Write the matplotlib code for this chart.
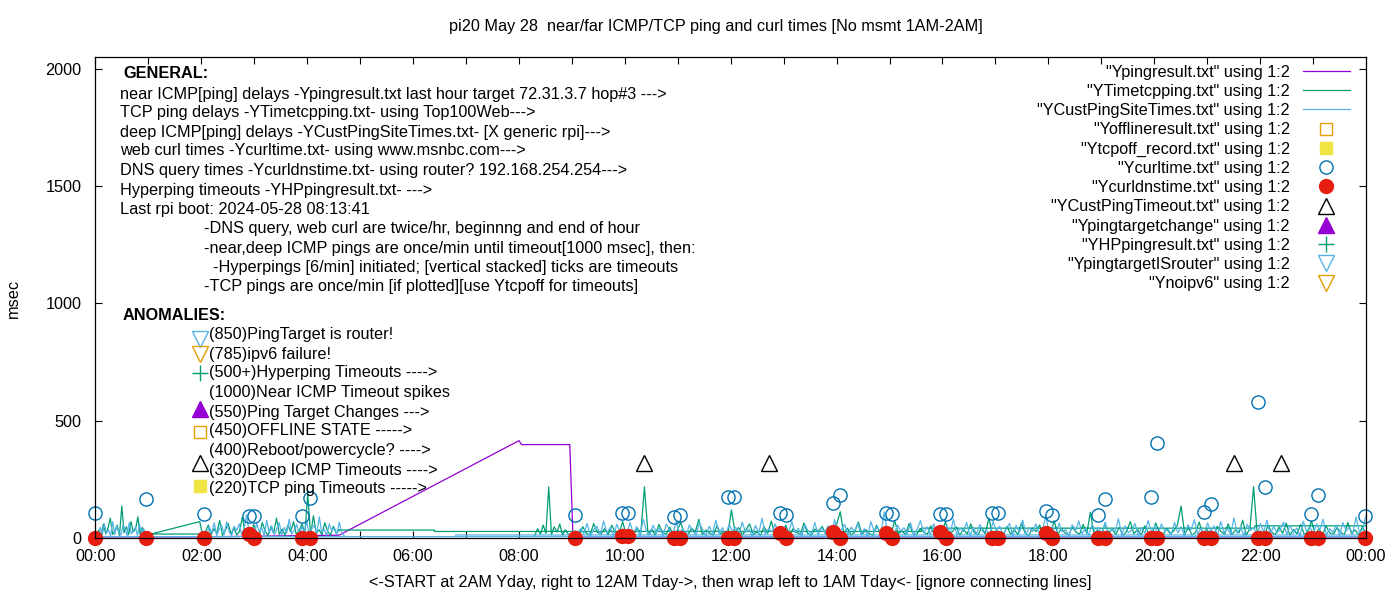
import numpy as np
import matplotlib
matplotlib.use("Agg")
import matplotlib.pyplot as plt
from matplotlib.ticker import FixedLocator, FuncFormatter

plt.rcParams['font.family'] = ['Liberation Sans', 'DejaVu Sans']
plt.rcParams['font.size'] = 11.7
FS = 11.7

# ---- data (time in hours of day, values in msec) ----
ping_t = [0.0, 0.93, 1.97, 4.6, 8.0, 8.05, 8.96, 9.02, 24.0]
ping_ms = [5, 5, 5, 12, 415, 398, 398, 5, 5]

tcp_a_ms = [12, 35, 10, 60, 18, 42, 85, 15, 30, 55, 11, 136, 22, 48, 14, 70, 26, 38, 90, 16, 45, 10]
tcp_b_ms = [70, 12, 28, 55, 14, 40, 20, 75, 11, 33, 62, 16, 45, 13, 28, 90, 18, 36, 12, 58,
            24, 14, 66, 30, 11, 48, 20, 85, 15, 38, 12, 54, 26, 70, 14, 32, 60, 18, 190, 11,
            95, 22, 35, 14, 65, 28, 12, 50, 20, 34]
tcp_c_ms = [12, 40, 15, 55, 20, 218, 14, 48, 25, 60, 12, 35, 18, 10]
tcp_d_ms = [12, 30, 14, 48, 20, 11, 62, 25, 16, 40,
            13, 55, 22, 18, 70, 12, 35, 15, 44, 20,
            218, 14, 38, 12, 58, 24, 16, 46, 11, 30,
            66, 18, 13, 42, 25, 80, 14, 34, 20, 12,
            52, 16, 28, 14, 120, 22, 45, 12, 36, 60,
            15, 26, 11, 48, 20, 72, 14, 32, 18, 55,
            12, 40, 24, 15, 64, 20, 11, 38, 28, 50,
            16, 33, 13, 58, 112, 18, 42, 12, 26, 68,
            14, 36, 20, 11, 54, 24, 16, 46, 12, 75,
            18, 30, 14, 62, 22, 13, 40, 26, 15, 52,
            11, 34, 20, 70, 14, 28, 48, 12, 38, 16,
            60, 22, 13, 44, 18, 85, 15, 32, 24, 12,
            50, 16, 36, 14, 66, 20, 11, 42, 28, 56,
            13, 30, 18, 74, 15, 40, 22, 12, 48, 26,
            16, 58, 20, 110, 14, 34, 12, 62, 24, 38,
            15, 46, 11, 28, 70, 18, 36, 13, 52, 22,
            14, 64, 26, 12, 40, 18, 30, 56, 136, 16,
            44, 13, 24, 68, 15, 38, 20, 11, 50, 28,
            16, 60, 14, 34, 22, 76, 12, 42, 219, 18,
            30, 13, 54, 24, 15, 46, 20, 64, 12, 36,
            18, 58, 14, 28, 72, 16, 40, 12, 50, 22,
            15, 44, 26, 13, 66, 20, 34, 12, 48, 18]
# wrap-around connecting lines of the TCP file
tcp_wrap_t = [0.95, 1.97, np.nan, 4.6, 6.4, 6.4, 15.6, 15.6, 21.9, 21.9, 24.0]
tcp_wrap_ms = [17, 17, np.nan, 34, 34, 28, 28, 42, 42, 52, 52]

cust_a_ms = [10, 45, 12, 60, 20, 35, 10, 70, 15, 50, 25, 12, 55, 40, 10, 65, 18, 30, 48, 11, 58, 22, 40, 12]
cust_b_ms = [12, 48, 20, 65, 10, 38, 55, 14, 70, 25, 11, 50, 32, 60, 15, 42, 100, 18, 35, 12,
             62, 28, 45, 10, 75, 20, 52, 14, 38, 66, 12, 44, 22, 80, 16, 34, 58, 11, 48, 26,
             70, 13, 40, 55, 18, 90, 24, 36, 12, 60, 30, 46, 15, 68, 20, 10]
cust_c_ms = [12, 40, 18, 62, 10, 35, 50, 14, 72, 22, 45, 11,
             58, 26, 38, 12, 66, 20, 48, 10, 80, 30, 15, 54,
             24, 42, 11, 60, 34, 16, 70, 22, 40, 12, 56, 28,
             14, 64, 36, 10, 50, 20, 76, 18, 44, 12, 58, 30,
             46, 13, 68, 24, 38, 11, 54, 20, 84, 16, 40, 26,
             60, 12, 34, 48, 15, 72, 22, 42, 10, 56, 30, 18,
             66, 14, 44, 24, 52, 11, 78, 20, 36, 58, 13, 46,
             28, 62, 16, 40, 10, 70, 24, 50, 14, 112, 20, 34,
             12, 56, 30, 44, 18, 64, 11, 38, 74, 22, 48, 15,
             60, 26, 36, 12, 52, 20, 80, 14, 42, 28, 66, 10,
             46, 18, 58, 24, 34, 13, 70, 30, 50, 16, 40, 62,
             11, 54, 22, 76, 15, 44, 28, 60, 12, 38, 92, 20,
             48, 14, 64, 26, 36, 10, 56, 32, 72, 18, 42, 12,
             58, 24, 46, 16, 68, 11, 40, 28, 82, 14, 52, 22,
             34, 62, 13, 44, 20, 74, 26, 50, 12, 60, 30, 38,
             16, 66, 22, 48, 10, 56, 36, 78, 18, 42, 14, 64,
             28, 52, 12, 70, 24, 40, 16, 86, 20, 46, 11, 58,
             32, 44, 14, 62, 26, 76, 12, 50, 22, 36, 68, 15,
             54, 20, 42, 10, 72, 28, 48, 16, 60, 34, 80, 13,
             40, 24, 56, 12, 66, 30, 46, 18, 90, 22, 38, 95]
cust_wrap_t = [0.0, 24.0, np.nan, 6.8, 24.0]
cust_wrap_ms = [6, 6, np.nan, 13, 13]

curl_t = [0.0, 0.95, 2.05, 2.9, 3.0, 3.9, 4.05, 9.05, 9.94, 10.05, 10.92, 11.04, 11.94, 12.06,
          12.93, 13.04, 13.93, 14.06, 14.93, 15.04, 15.95, 16.06, 16.93, 17.04, 17.95, 18.06,
          18.93, 19.07, 19.94, 20.05, 20.94, 21.07, 21.96, 22.09, 22.96, 23.09, 23.98]
curl_ms = [107, 166, 102, 94, 94, 94, 170, 98, 107, 107, 90, 98, 175, 175,
           107, 98, 150, 183, 107, 102, 102, 102, 107, 107, 115, 98,
           98, 166, 175, 405, 111, 145, 580, 217, 102, 183, 94]
dns_t = curl_t
dns_ms = [0, 0, 0, 18, 0, 0, 0, 0, 10, 10, 0, 0, 0, 0,
          20, 0, 25, 0, 20, 0, 25, 0, 0, 0, 20, 0,
          0, 0, 0, 0, 0, 0, 0, 0, 0, 0, 0]

timeout_t = [1.97, 10.36, 12.72, 21.5, 22.39]
timeout_ms = [320, 320, 320, 320, 320]
offline_t, offline_ms = [1.97], [450]
tcpoff_t, tcpoff_ms = [1.97], [220]
tchange_t, tchange_ms = [1.97], [550]
hp_t, hp_ms = [1.97], [703]
router_t, router_ms = [1.97], [850]
noipv6_t, noipv6_ms = [1.97], [785]


def seg_times(t0, t1, vals):
    return list(np.linspace(t0, t1, len(vals)))


tcp_t = (seg_times(0.02, 0.93, tcp_a_ms) + seg_times(1.97, 4.6, tcp_b_ms) + [np.nan]
         + seg_times(8.3, 8.98, tcp_c_ms) + seg_times(9.0, 24.0, tcp_d_ms) + [np.nan] + tcp_wrap_t)
tcp_ms = tcp_a_ms + tcp_b_ms + [np.nan] + tcp_c_ms + tcp_d_ms + [np.nan] + tcp_wrap_ms

cust_t = (seg_times(0.05, 0.95, cust_a_ms) + [np.nan] + seg_times(2.1, 4.7, cust_b_ms) + [np.nan]
          + seg_times(9.1, 24.0, cust_c_ms) + [np.nan] + cust_wrap_t)
cust_ms = cust_a_ms + [np.nan] + cust_b_ms + [np.nan] + cust_c_ms + [np.nan] + cust_wrap_ms

PURPLE = '#9400d3'
GREEN = '#009e73'
LBLUE = '#56b4e9'
ORANGE = '#e69f00'
YELLOW = '#f0e442'
BLUE = '#0072b2'
RED = '#e51e10'

fig = plt.figure(figsize=(14, 6), dpi=100)
ax = fig.add_axes([0.0682, 0.1033, 0.9075, 0.8017])

h = []
h += ax.plot(ping_t, ping_ms, color=PURPLE, lw=0.9, label='"Ypingresult.txt" using 1:2')
h += ax.plot(tcp_t, tcp_ms, color=GREEN, lw=0.9, label='"YTimetcpping.txt" using 1:2')
h += ax.plot(cust_t, cust_ms, color=LBLUE, lw=0.9, label='"YCustPingSiteTimes.txt" using 1:2')

mk = dict(ls='none', clip_on=False, mew=1.0)
h += ax.plot(offline_t, offline_ms, marker='s', ms=9, mfc='none', mec=ORANGE,
             label='"Yofflineresult.txt" using 1:2', **mk)
h += ax.plot(tcpoff_t, tcpoff_ms, marker='s', ms=9, mfc=YELLOW, mec=YELLOW,
             label='"Ytcpoff_record.txt" using 1:2', **mk)
h += ax.plot(curl_t, curl_ms, marker='o', ms=9.5, mfc='none', mec=BLUE,
             label='"Ycurltime.txt" using 1:2', **mk)
h += ax.plot(dns_t, dns_ms, marker='o', ms=10, mfc=RED, mec=RED,
             label='"Ycurldnstime.txt" using 1:2', **mk)
h += ax.plot(timeout_t, timeout_ms, marker='^', ms=11, mfc='none', mec='black',
             label='"YCustPingTimeout.txt" using 1:2', **mk)
h += ax.plot(tchange_t, tchange_ms, marker='^', ms=11, mfc=PURPLE, mec=PURPLE,
             label='"Ypingtargetchange" using 1:2', **mk)
h += ax.plot(hp_t, hp_ms, marker='+', ms=11, mec=GREEN,
             label='"YHPpingresult.txt" using 1:2', **mk)
h += ax.plot(router_t, router_ms, marker='v', ms=11, mfc='none', mec=LBLUE,
             label='"YpingtargetISrouter" using 1:2', **mk)
h += ax.plot(noipv6_t, noipv6_ms, marker='v', ms=11, mfc='none', mec=ORANGE,
             label='"Ynoipv6" using 1:2', **mk)

ax.set_xlim(0, 24)
ax.set_ylim(0, 2050)
ax.xaxis.set_major_locator(FixedLocator(list(range(0, 25))))
ax.xaxis.set_major_formatter(FuncFormatter(
    lambda v, p: '%02d:00' % (int(v) % 24) if int(v) % 2 == 0 else ''))
ax.set_yticks([0, 500, 1000, 1500, 2000])
ax.tick_params(direction='in', length=5, width=0.8, top=True, right=True, labelsize=FS)
ax.tick_params(axis='y', pad=10)
ax.tick_params(axis='x', pad=8)
for s in ax.spines.values():
    s.set_linewidth(0.9)

leg = ax.legend(handles=h, loc='upper right', bbox_to_anchor=(0.9874, 0.984),
                frameon=False, markerfirst=False, borderpad=0, borderaxespad=0,
                handlelength=2.9, handletextpad=0.8, labelspacing=0.26, fontsize=FS)

fig.text(716 / 1400, 1 - 26 / 600, 'pi20 May 28  near/far ICMP/TCP ping and curl times [No msmt 1AM-2AM]',
         ha='center', va='center', fontsize=FS)
fig.text(730 / 1400, 1 - 583 / 600,
         '<-START at 2AM Yday, right to 12AM Tday->, then wrap left to 1AM Tday<- [ignore connecting lines]',
         ha='center', va='center', fontsize=FS)
fig.text(13 / 1400, 1 - 298 / 600, 'msec', rotation=90, ha='center', va='center', fontsize=FS)

notes = [
    (123, 74, 'GENERAL:', 'bold'),
    (120, 94, 'near ICMP[ping] delays -Ypingresult.txt last hour target 72.31.3.7 hop#3 --->', 'normal'),
    (120, 113, 'TCP ping delays -YTimetcpping.txt- using Top100Web--->', 'normal'),
    (120, 132, 'deep ICMP[ping] delays -YCustPingSiteTimes.txt- [X generic rpi]--->', 'normal'),
    (120, 151, 'web curl times -Ycurltime.txt- using www.msnbc.com--->', 'normal'),
    (120, 171, 'DNS query times -Ycurldnstime.txt- using router? 192.168.254.254--->', 'normal'),
    (120, 190, 'Hyperping timeouts -YHPpingresult.txt- --->', 'normal'),
    (120, 209, 'Last rpi boot: 2024-05-28 08:13:41', 'normal'),
    (204, 229, '-DNS query, web curl are twice/hr, beginnng and end of hour', 'normal'),
    (204, 248, '-near,deep ICMP pings are once/min until timeout[1000 msec], then:', 'normal'),
    (213, 267, '-Hyperpings [6/min] initiated; [vertical stacked] ticks are timeouts', 'normal'),
    (204, 286, '-TCP pings are once/min [if plotted][use Ytcpoff for timeouts]', 'normal'),
    (123, 315, 'ANOMALIES:', 'bold'),
    (209, 335, '(850)PingTarget is router!', 'normal'),
    (209, 354, '(785)ipv6 failure!', 'normal'),
    (209, 373, '(500+)Hyperping Timeouts ---->', 'normal'),
    (209, 392, '(1000)Near ICMP Timeout spikes', 'normal'),
    (209, 412, '(550)Ping Target Changes --->', 'normal'),
    (209, 431, '(450)OFFLINE STATE ----->', 'normal'),
    (209, 450, '(400)Reboot/powercycle? ---->', 'normal'),
    (209, 470, '(320)Deep ICMP Timeouts ---->', 'normal'),
    (209, 489, '(220)TCP ping Timeouts ----->', 'normal'),
]
for x, y, txt, w in notes:
    fig.text(x / 1400, 1 - y / 600, txt, ha='left', va='center', fontsize=FS, fontweight=w)

fig.savefig('out.png', dpi=100)
